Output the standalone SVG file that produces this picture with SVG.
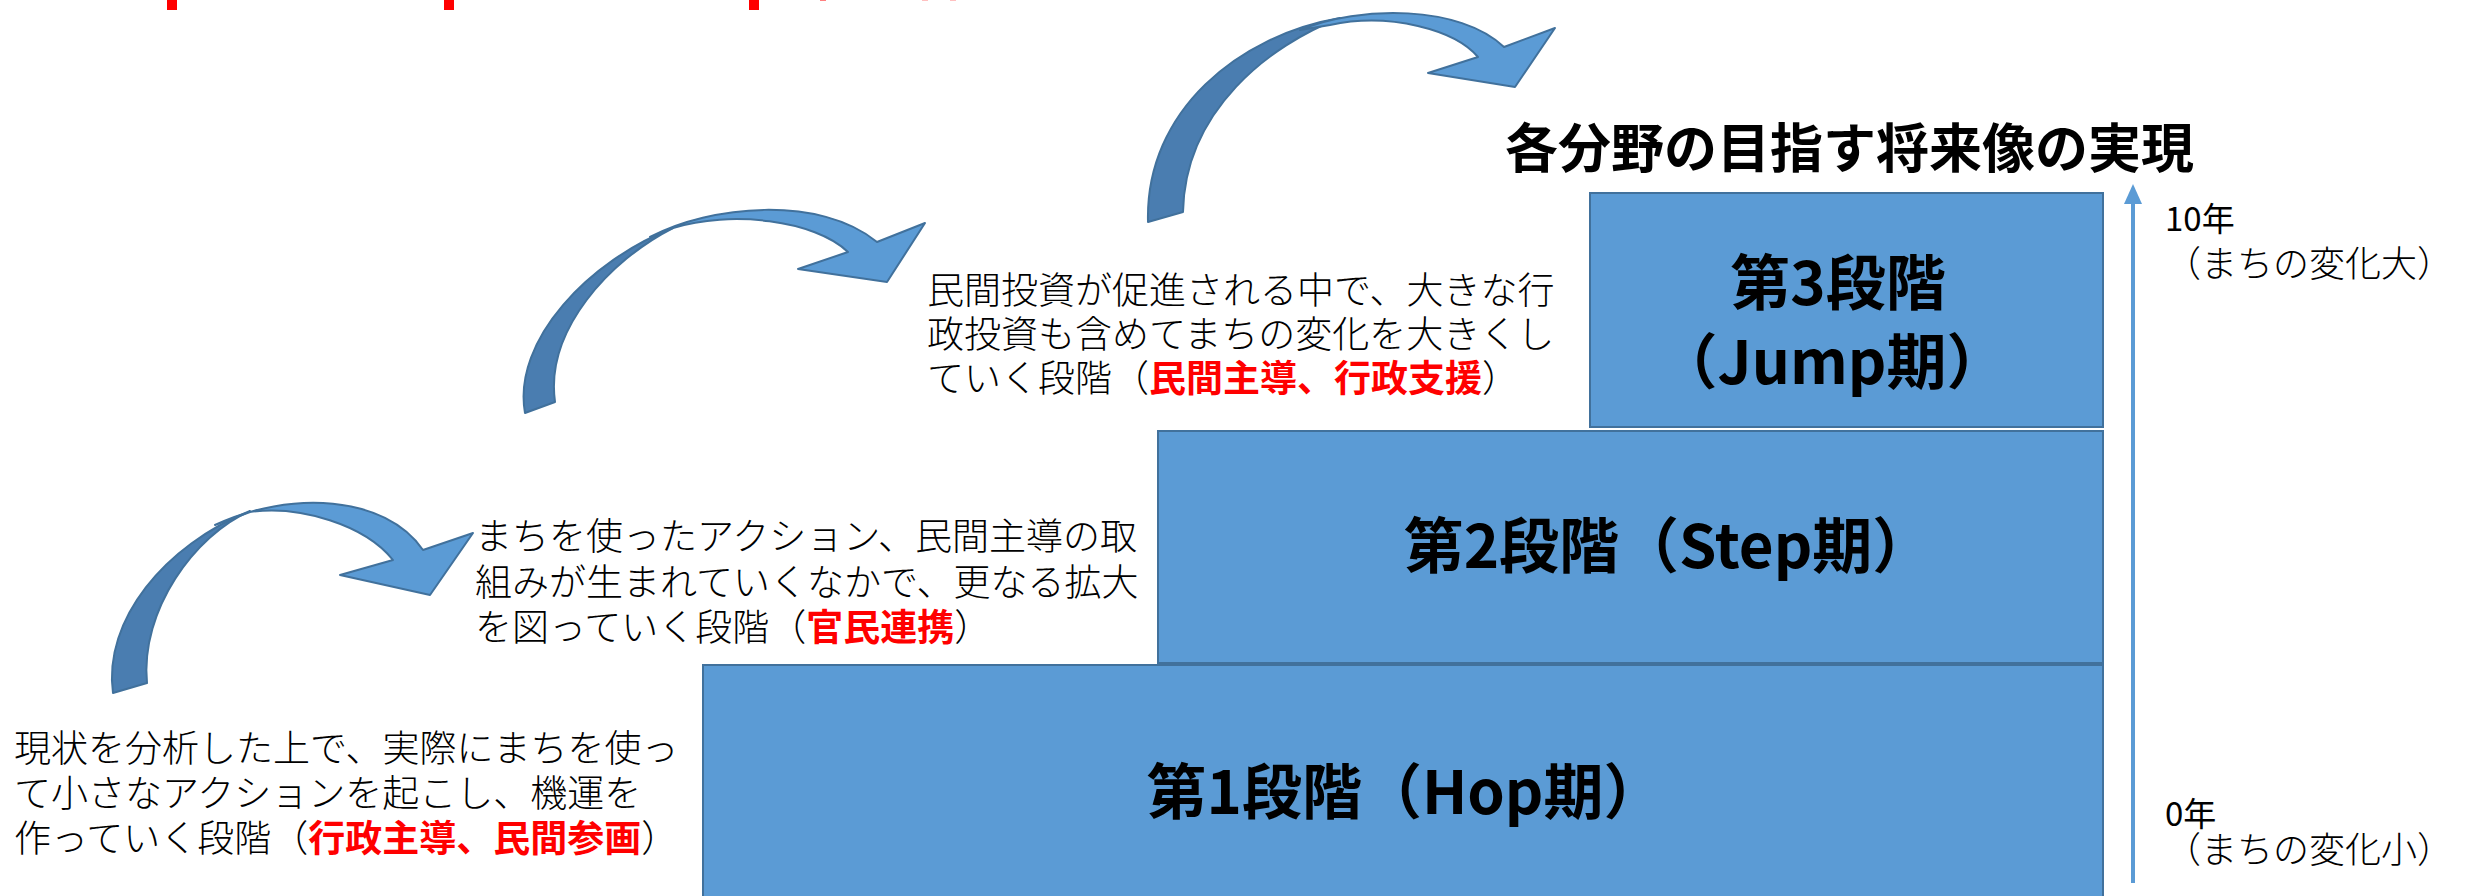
<svg xmlns="http://www.w3.org/2000/svg" width="2471" height="896" viewBox="0 0 2471 896">
<style>
  .box { fill: #5b9bd5; stroke: #41719c; stroke-width: 2; }
  .lbl { font-family: "Noto Sans CJK JP", "Liberation Sans", sans-serif; font-weight: 700; font-size: 60px; fill: #000; }
  .desc { font-family: "Noto Sans CJK JP", "Liberation Sans", sans-serif; font-weight: 300; font-size: 37px; fill: #000; }
  .red { fill: #ff0000; font-weight: 700; }
  .title { font-family: "Noto Sans CJK JP", "Liberation Sans", sans-serif; font-weight: 700; font-size: 53px; fill: #000; }
  .ax1 { font-family: "Noto Sans CJK JP", "Liberation Sans", sans-serif; font-weight: 400; font-size: 33px; fill: #000; }
  .ax2 { font-family: "Noto Sans CJK JP", "Liberation Sans", sans-serif; font-weight: 300; font-size: 36px; fill: #000; }
  .dark { fill: #4a7db0; stroke: #41719c; stroke-width: 2; stroke-linejoin: round; }
  .light { fill: #5b9bd5; stroke: #41719c; stroke-width: 2; stroke-linejoin: round; }
</style>
<rect width="2471" height="896" fill="#ffffff"/>
<g id="clipped-heading" fill="#ff0000">
  <rect x="167" y="0" width="10" height="10"/>
  <rect x="444" y="0" width="10" height="10"/>
  <rect x="749" y="0" width="10" height="10"/>
  <rect x="820" y="0" width="6" height="1" fill="#ff8080"/>
  <rect x="922" y="0" width="6" height="1" fill="#ffc0c0"/>
  <rect x="950" y="0" width="6" height="1" fill="#ffc0c0"/>
</g>
<g id="connectors">
  <g id="curve-arrow-1">
    <path class="dark" d="M113,693 C103,620 165,545 250,511 C195,535 140,610 147,683 Z"/>
    <path class="light" d="M215,525 C290,490 385,495 423,550 L473,533 L430,595 L340,575 L393,560 C365,525 300,505 250,512 Z"/>
  </g>
  <g id="curve-arrow-2">
    <path class="dark" d="M525,413 C512,340 590,260 673,228 C610,260 545,330 555,402 Z"/>
    <path class="light" d="M650,237 C710,205 820,195 877,242 L925,223 L887,282 L798,269 L848,252 C815,220 730,210 673,228 Z"/>
  </g>
  <g id="curve-arrow-3">
    <path class="dark" d="M1148,222 C1145,110 1240,35 1340,18 C1270,45 1185,110 1183,212 Z"/>
    <path class="light" d="M1300,30 C1360,5 1460,5 1504,47 L1555,28 L1515,87 L1428,73 L1478,57 C1455,30 1390,12 1330,25 Z"/>
  </g>
</g>
<g id="goal-title">
  <text class="title" x="1505" y="168">各分野の目指す将来像の実現</text>
</g>
<g id="stage1">
  <rect class="box" x="703" y="665" width="1400" height="240"/>
  <text class="lbl" x="1405" y="814" text-anchor="middle">第1段階（Hop期）</text>
</g>
<g id="stage2">
  <rect class="box" x="1158" y="431" width="945" height="232"/>
  <text class="lbl" x="1668" y="568" text-anchor="middle">第2段階（Step期）</text>
</g>
<g id="stage3">
  <rect class="box" x="1590" y="193" width="513" height="234"/>
  <text class="lbl" x="1838" y="305" text-anchor="middle">第3段階</text>
  <text class="lbl" x="1832" y="384" text-anchor="middle">（Jump期）</text>
</g>
<g id="desc1">
  <text class="desc" x="14" y="762">現状を分析した上で、実際にまちを使っ</text>
  <text class="desc" x="14" y="807">て小さなアクションを起こし、機運を</text>
  <text class="desc" x="14" y="852">作っていく段階（<tspan class="red">行政主導、民間参画</tspan>）</text>
</g>
<g id="desc2">
  <text class="desc" x="475" y="550">まちを使ったアクション、民間主導の取</text>
  <text class="desc" x="475" y="596">組みが生まれていくなかで、更なる拡大</text>
  <text class="desc" x="475" y="641">を図っていく段階（<tspan class="red">官民連携</tspan>）</text>
</g>
<g id="desc3">
  <text class="desc" x="927" y="304">民間投資が促進される中で、大きな行</text>
  <text class="desc" x="927" y="348">政投資も含めてまちの変化を大きくし</text>
  <text class="desc" x="927" y="392">ていく段階（<tspan class="red">民間主導、行政支援</tspan>）</text>
</g>
<g id="time-axis">
  <line x1="2133" y1="200" x2="2133" y2="883" stroke="#5b9bd5" stroke-width="4"/>
  <polygon points="2133,184 2142,204 2124,204" fill="#5b9bd5"/>
  <text class="ax1" x="2165" y="231">10年</text>
  <text class="ax2" x="2165" y="277">（まちの変化大）</text>
  <text class="ax1" x="2165" y="826">0年</text>
  <text class="ax2" x="2165" y="863">（まちの変化小）</text>
</g>
</svg>
